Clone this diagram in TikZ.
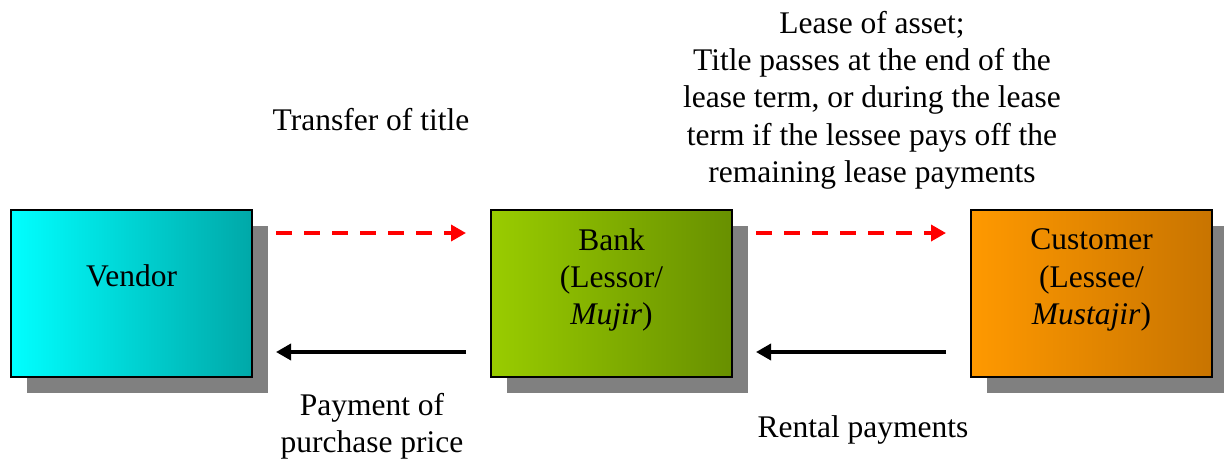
\documentclass[tikz,border=0pt]{standalone}
\usepackage{fontspec}
\setmainfont{Liberation Serif}
\usetikzlibrary{arrows.meta,shadows}
\definecolor{shadowgray}{RGB}{128,128,128}
\definecolor{vendL}{RGB}{0,255,255}
\definecolor{vendR}{RGB}{0,168,168}
\definecolor{bankL}{RGB}{153,204,0}
\definecolor{bankR}{RGB}{104,144,0}
\definecolor{custL}{RGB}{255,153,0}
\definecolor{custR}{RGB}{200,116,0}
\definecolor{arrowred}{RGB}{255,0,0}
\tikzset{
  txt/.style={font=\fontsize{31.5}{37.3}\selectfont, inner sep=0pt, align=center},
  box/.style={draw=black, line width=2pt, minimum width=241pt, minimum height=167pt, inner sep=0pt,
    drop shadow={shadow xshift=16pt, shadow yshift=-16pt, fill=shadowgray, opacity=1}},
  titlearrow/.style={draw=arrowred, line width=3.5pt, dash pattern=on 16pt off 12pt,
    -{Triangle[length=15pt,width=16pt]}},
  payarrow/.style={draw=black, line width=3.5pt, -{Triangle[length=15pt,width=16pt]}},
}
\begin{document}
\begin{tikzpicture}[x=1pt,y=-1pt]
\useasboundingbox (0,0) rectangle (1224,461);
\node[box, left color=vendL, right color=vendR] (vendor) at (131.5,293.5) {};
\node[box, left color=bankL, right color=bankR] (bank) at (611.5,293.5) {};
\node[box, left color=custL, right color=custR] (cust) at (1091.5,293.5) {};

\node[txt, anchor=base] (vendortxt) at (131.5,286) {Vendor};
\node[txt] (banktxt) at (611.5,280) {Bank\\(Lessor/\\\textit{Mujir})};
\node[txt] (custtxt) at (1091.5,280) {Customer\\(Lessee/\\\textit{Mustajir})};

\draw[titlearrow] ([shift={(23,-60.5)}]vendor.east) -- ([shift={(-24,-60.5)}]bank.west);
\draw[payarrow] ([shift={(-24,58.5)}]bank.west) -- ([shift={(23,58.5)}]vendor.east);
\draw[titlearrow] ([shift={(23,-60.5)}]bank.east) -- ([shift={(-24,-60.5)}]cust.west);
\draw[payarrow] ([shift={(-24,58.5)}]cust.west) -- ([shift={(23,58.5)}]bank.east);

\node[txt, anchor=base] (transfer) at (371,130) {Transfer of title};
\node[txt] (lease) at (872,100.3) {Lease of asset;\\Title passes at the end of the\\lease term, or during the lease\\term if the lessee pays off the\\remaining lease payments};
\node[txt] (payment) at (372,426) {Payment of\\purchase price};
\node[txt, anchor=base] (rental) at (863,437) {Rental payments};
\end{tikzpicture}
\end{document}
